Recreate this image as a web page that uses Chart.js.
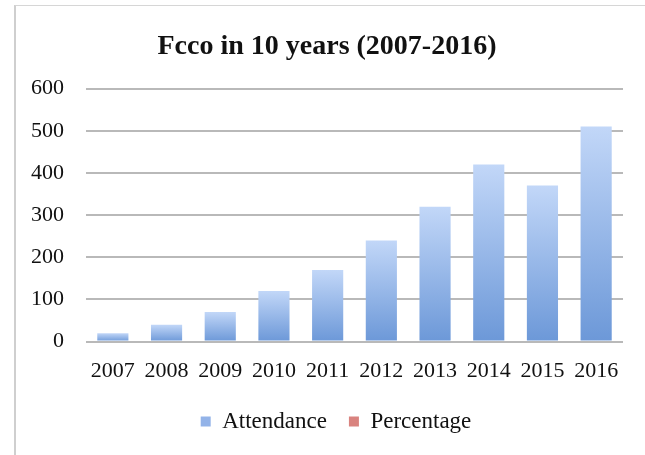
<!DOCTYPE html>
<html>
<head>
<meta charset="utf-8">
<script src="https://cdn.jsdelivr.net/npm/chart.js@4/dist/chart.umd.min.js"></script>
<style>
  html, body { margin: 0; padding: 0; background: #fff; overflow: hidden; }
  #wrap { position: relative; width: 645px; height: 455px; overflow: hidden; }
  #frame { position: absolute; left: 14px; top: 5px; width: 700px; height: 500px;
           border-left: 2px solid #cfcfcf; border-top: 1px solid #d6d6d6; }
  canvas { position: absolute; left: 0; top: 0; }
</style>
</head>
<body>
<div id="wrap">
  <div id="frame"></div>
  <canvas id="c" width="645" height="455"></canvas>
</div>
<script>
const categories = ["2007","2008","2009","2010","2011","2012","2013","2014","2015","2016"];
const attendance = [20, 40, 70, 120, 170, 240, 320, 420, 370, 510];
const percentage = [];
const yTicks = [0, 100, 200, 300, 400, 500, 600];

const FONT = "'Liberation Serif', 'DejaVu Serif', serif";

function barGradient(ctx) {
  const chart = ctx.chart;
  const y = chart.scales && chart.scales.y;
  if (!chart.chartArea || !y || ctx.type !== 'data') return '#93b3e8';
  const v = ctx.raw;
  const top = y.getPixelForValue(v);
  const base = y.getPixelForValue(0);
  if (!isFinite(top) || !isFinite(base) || top === base) return '#93b3e8';
  const g = chart.ctx.createLinearGradient(0, top, 0, base);
  g.addColorStop(0, '#c2d7f8');
  g.addColorStop(1, '#6c98d8');
  return g;
}

const shiftBlocks = {
  id: 'shiftBlocks',
  afterLayout(chart) {
    if (chart.titleBlock) { chart.titleBlock.left += 11; chart.titleBlock.right += 11; }
    if (chart.legend) { chart.legend.left += 20; chart.legend.right += 20; }
  }
};

new Chart(document.getElementById('c'), {
  type: 'bar',
  data: {
    labels: categories,
    datasets: [
      { label: 'Attendance', data: attendance, backgroundColor: barGradient, stack: 's', borderWidth: 0 },
      { label: 'Percentage', data: percentage, backgroundColor: '#d9837f', stack: 's', borderWidth: 0 }
    ]
  },
  plugins: [shiftBlocks],
  options: {
    responsive: false,
    animation: false,
    devicePixelRatio: 1,
    layout: { padding: { left: 9, right: 22, top: 30, bottom: 12 } },
    datasets: { bar: { categoryPercentage: 1.0, barPercentage: 0.58 } },
    plugins: {
      title: {
        display: true,
        text: 'Fcco in 10 years (2007-2016)',
        color: '#111',
        font: { family: FONT, size: 28, weight: 'bold' },
        padding: { top: 0, bottom: 25 }
      },
      legend: {
        position: 'bottom',
        labels: {
          color: '#111',
          font: { family: FONT, size: 23 },
          boxWidth: 10,
          boxHeight: 10,
          padding: 22,
          generateLabels: function(chart) {
            const cols = ['#93b3e8', '#d9837f'];
            return chart.data.datasets.map((d, i) => ({
              text: d.label, fillStyle: cols[i], strokeStyle: cols[i], lineWidth: 0,
              hidden: false, datasetIndex: i, fontColor: '#111'
            }));
          }
        }
      },
      tooltip: { enabled: false }
    },
    scales: {
      x: {
        grid: { display: false, drawTicks: false },
        border: { display: false },
        ticks: { color: '#111', font: { family: FONT, size: 22 }, padding: 16, maxRotation: 0, autoSkip: false },
        afterFit: function(s) { s.height = s.height - 12; }
      },
      y: {
        min: 0, max: 600,
        afterBuildTicks: function(s) { s.ticks = yTicks.map(v => ({ value: v })); },
        grid: { color: '#b9b9b9', lineWidth: 2, drawTicks: false },
        border: { display: false },
        ticks: { color: '#111', font: { family: FONT, size: 22 }, padding: 22 }
      }
    }
  }
});
</script>
</body>
</html>
